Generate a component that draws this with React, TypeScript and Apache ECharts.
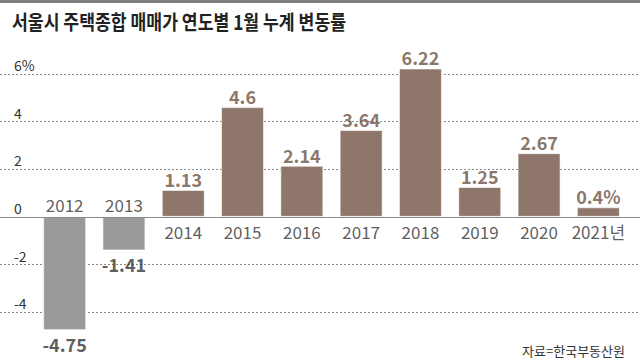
import React, { useEffect, useRef } from "react";
import * as echarts from "echarts";

const TITLE = "서울시 주택종합 매매가 연도별 1월 누계 변동률";
const SOURCE = "자료=한국부동산원";
const categories = ["2012", "2013", "2014", "2015", "2016", "2017", "2018", "2019", "2020", "2021년"];
const values = [-4.75, -1.41, 1.13, 4.6, 2.14, 3.64, 6.22, 1.25, 2.67, 0.4];
const yTicks = [-6, -4, -2, 0, 2, 4, 6];

const FONT = "'Noto Sans CJK KR', 'Noto Sans', sans-serif";
const POS = "#8f766a";
const NEG = "#9a9a9a";

export default function App() {
  const ref = useRef<HTMLDivElement>(null);
  useEffect(() => {
    if (!ref.current) return;
    const chart = echarts.init(ref.current, null, { renderer: "svg" });
    const yMin = yTicks[0];
    const yMax = yTicks[yTicks.length - 1];
    chart.setOption({
      animation: false,
      textStyle: { fontFamily: FONT },
      grid: [
        { left: 0, right: 0, top: 74, height: 288 },
        { left: 35, right: 12, top: 26, height: 336 },
      ],
      xAxis: [
        { type: "value", gridIndex: 0, show: false, min: 0, max: 1 },
        { type: "category", gridIndex: 1, data: categories, show: false },
      ],
      yAxis: [
        {
          type: "value",
          gridIndex: 0,
          min: yMin,
          max: yMax,
          interval: 2,
          axisLine: { show: false },
          axisTick: { show: false },
          splitLine: { show: true, lineStyle: { type: [2, 2], color: "#8a8a8a", width: 1 } },
          axisLabel: {
            inside: true,
            margin: 14,
            align: "left",
            verticalAlign: "bottom",
            padding: [0, 0, 2, 0],
            color: "#333",
            fontSize: 14,
            fontFamily: FONT,
            formatter: (v: number) => (v === yMax ? `${v}%` : v === yMin ? "" : String(v)),
          },
        },
        { type: "value", gridIndex: 1, min: -6, max: 8, interval: 2, show: false, splitLine: { show: false } },
      ],
      series: [
        {
          type: "line",
          xAxisIndex: 0,
          yAxisIndex: 0,
          data: [],
          markLine: {
            silent: true,
            symbol: "none",
            label: { show: false },
            lineStyle: { type: "solid", color: "#8a8a8a", width: 1 },
            data: [{ yAxis: 0 }],
          },
        },
        {
          type: "bar",
          xAxisIndex: 1,
          yAxisIndex: 1,
          barWidth: 43,
          data: values.map((v) => ({
            value: v,
            itemStyle: { color: v >= 0 ? POS : NEG, borderColor: "rgba(255,255,255,0.6)", borderWidth: 1 },
          })),
          z: 3,
        },
        {
          type: "scatter",
          xAxisIndex: 1,
          yAxisIndex: 1,
          symbolSize: 0,
          data: values.map((v, i) => ({
            value: [i, v],
            label: {
              show: true,
              position: v >= 0 ? "top" : "bottom",
              distance: v >= 0 ? 2 : 5,
              color: v >= 0 ? "#6d5244" : "#333",
              fontSize: 18,
              fontWeight: 600,
              fontFamily: FONT,
              formatter: () => (i === values.length - 1 ? `${v}%` : String(v)),
            },
          })),
          z: 5,
        },
        {
          type: "scatter",
          xAxisIndex: 1,
          yAxisIndex: 1,
          symbolSize: 0,
          data: values.map((v, i) => ({
            value: [i, 0],
            label: {
              show: true,
              position: v >= 0 ? "bottom" : "top",
              distance: v >= 0 ? 6 : 4,
              color: "#333",
              fontSize: 17,
              fontFamily: FONT,
              formatter: () => categories[i],
            },
          })),
          z: 5,
        },
      ],
      graphic: [
        { type: "rect", left: 0, top: 0, shape: { width: 640, height: 3 }, style: { fill: "#808080" } },
        {
          type: "text",
          x: 12,
          y: 21,
          scaleX: 0.86,
          style: {
            text: TITLE,
            fill: "#222",
            font: `bold 20px ${FONT}`,
            verticalAlign: "middle",
          },
        },
        {
          type: "text",
          x: 625,
          y: 350,
          style: {
            text: SOURCE,
            fill: "#333",
            font: `13px ${FONT}`,
            align: "right",
            verticalAlign: "middle",
          },
        },
      ],
    });
    return () => chart.dispose();
  }, []);
  return <div ref={ref} style={{ position: "fixed", left: 0, top: 0, width: 640, height: 360, background: "#fff" }} />;
}
